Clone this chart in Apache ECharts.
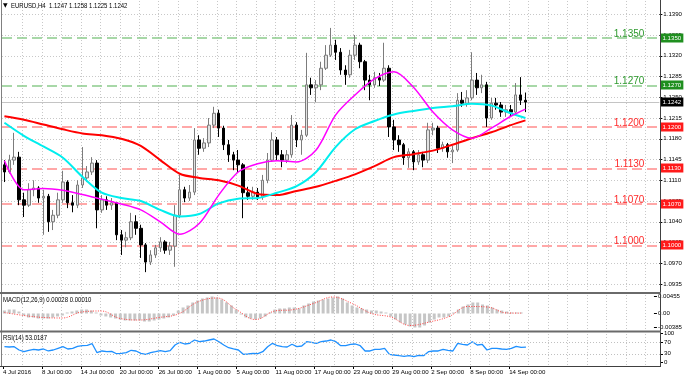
<!DOCTYPE html>
<html><head><meta charset="utf-8">
<script src="https://cdn.jsdelivr.net/npm/echarts@6/dist/echarts.min.js"></script>
<style>html,body{margin:0;padding:0;background:#fff}#c{width:685px;height:377px}</style>
</head><body><div id="c"></div>
<script>
// ---- data (12-hour slots) ----
const dateLabels = ['4 Jul 2016','8 Jul 00:00','14 Jul 00:00','20 Jul 00:00','26 Jul 00:00','1 Aug 00:00','5 Aug 00:00','11 Aug 00:00','17 Aug 00:00','23 Aug 00:00','29 Aug 00:00','2 Sep 00:00','8 Sep 00:00','14 Sep 00:00'];
// [open, close, low, high]
const candles = [
[1.1136,1.1124,1.1107,1.1144],[1.1124,1.1144,1.1121,1.1153],[1.1144,1.1149,1.1136,1.1190],[1.1149,1.1077,1.1068,1.1158],
[1.1077,1.1068,1.1048,1.1089],[1.1068,1.1094,1.1065,1.1105],[1.1094,1.1097,1.1083,1.1110],[1.1097,1.1080,1.1072,1.1100],
[1.1080,1.1083,1.1018,1.1094],[1.1083,1.1040,1.1023,1.1087],[1.1040,1.1051,1.1026,1.1060],[1.1051,1.1077,1.1046,1.1089],
[1.1077,1.1107,1.1072,1.1126],[1.1107,1.1072,1.1063,1.1110],[1.1072,1.1068,1.1056,1.1085],[1.1068,1.1102,1.1063,1.1110],
[1.1102,1.1114,1.1097,1.1166],[1.1114,1.1124,1.1107,1.1134],[1.1124,1.1139,1.1119,1.1149],[1.1139,1.1060,1.1029,1.1144],
[1.1060,1.1077,1.1055,1.1085],[1.1077,1.1068,1.1060,1.1083],[1.1068,1.1072,1.1060,1.1080],[1.1072,1.1018,1.1009,1.1073],
[1.1018,1.1009,1.0984,1.1026],[1.1009,1.1013,1.0997,1.1023],[1.1013,1.1040,1.1009,1.1055],[1.1040,1.1029,1.1018,1.1051],
[1.1029,1.1001,1.0979,1.1035],[1.1001,1.0972,1.0955,1.1004],[1.0972,1.0984,1.0967,1.0992],[1.0984,1.0996,1.0979,1.1001],
[1.0996,1.1006,1.0989,1.1014],[1.1006,1.0992,1.0986,1.1009],[1.0992,1.0999,1.0984,1.1006],[1.0999,1.1051,1.0964,1.1068],
[1.1051,1.1094,1.1046,1.1119],[1.1094,1.1080,1.1073,1.1099],[1.1080,1.1090,1.1075,1.1102],[1.1090,1.1178,1.1085,1.1198],
[1.1178,1.1164,1.1153,1.1186],[1.1164,1.1173,1.1158,1.1181],[1.1173,1.1203,1.1166,1.1215],[1.1203,1.1223,1.1198,1.1234],
[1.1223,1.1198,1.1183,1.1229],[1.1198,1.1170,1.1161,1.1202],[1.1170,1.1153,1.1141,1.1178],[1.1153,1.1144,1.1127,1.1158],
[1.1144,1.1136,1.1124,1.1161],[1.1136,1.1089,1.1046,1.1139],[1.1089,1.1083,1.1077,1.1099],[1.1083,1.1090,1.1077,1.1099],
[1.1090,1.1082,1.1077,1.1097],[1.1082,1.1110,1.1077,1.1119],[1.1110,1.1144,1.1105,1.1156],[1.1144,1.1178,1.1141,1.1191],
[1.1178,1.1153,1.1144,1.1183],[1.1153,1.1144,1.1132,1.1161],[1.1144,1.1153,1.1139,1.1161],[1.1153,1.1203,1.1148,1.1220],
[1.1203,1.1178,1.1166,1.1208],[1.1178,1.1186,1.1153,1.1195],[1.1186,1.1271,1.1183,1.1325],[1.1271,1.1266,1.1254,1.1283],
[1.1266,1.1271,1.1242,1.1279],[1.1271,1.1299,1.1262,1.1310],[1.1299,1.1321,1.1296,1.1338],[1.1321,1.1338,1.1318,1.1367],
[1.1338,1.1326,1.1313,1.1347],[1.1326,1.1296,1.1288,1.1333],[1.1296,1.1288,1.1271,1.1304],[1.1288,1.1321,1.1283,1.1330],
[1.1321,1.1338,1.1313,1.1355],[1.1338,1.1310,1.1299,1.1342],[1.1310,1.1279,1.1262,1.1313],[1.1279,1.1271,1.1245,1.1288],
[1.1271,1.1283,1.1266,1.1293],[1.1283,1.1279,1.1269,1.1291],[1.1279,1.1299,1.1276,1.1342],[1.1299,1.1200,1.1183,1.1304],
[1.1200,1.1178,1.1161,1.1212],[1.1178,1.1170,1.1158,1.1186],[1.1170,1.1148,1.1136,1.1173],[1.1148,1.1158,1.1131,1.1164],
[1.1158,1.1141,1.1127,1.1161],[1.1141,1.1153,1.1136,1.1161],[1.1153,1.1144,1.1132,1.1158],[1.1144,1.1195,1.1139,1.1207],
[1.1195,1.1198,1.1186,1.1207],[1.1198,1.1164,1.1156,1.1202],[1.1164,1.1170,1.1158,1.1175],[1.1170,1.1158,1.1148,1.1173],
[1.1158,1.1161,1.1139,1.1168],[1.1161,1.1245,1.1158,1.1257],[1.1245,1.1240,1.1234,1.1259],[1.1240,1.1249,1.1234,1.1262],
[1.1249,1.1279,1.1245,1.1326],[1.1279,1.1266,1.1254,1.1291],[1.1266,1.1271,1.1257,1.1288],[1.1271,1.1215,1.1200,1.1276],
[1.1215,1.1240,1.1212,1.1249],[1.1240,1.1237,1.1229,1.1249],[1.1237,1.1225,1.1217,1.1242],[1.1225,1.1229,1.1217,1.1237],
[1.1229,1.1225,1.1218,1.1237],[1.1225,1.1254,1.1222,1.1274],[1.1254,1.1245,1.1237,1.1284],[1.1245,1.1242,1.1225,1.1258]
];
const maSlots = [0,4,8,12,16,20,24,28,32,36,40,44,48,52,56,60,64,68,72,76,80,84,88,92,96,100,104,107];
const maRed = [1.1218,1.1212,1.1204,1.1196,1.1189,1.1186,1.1180,1.1168,1.1144,1.1121,1.1114,1.1110,1.1101,1.1087,1.1085,1.1092,1.1099,1.1109,1.1120,1.1134,1.1149,1.1154,1.1160,1.1170,1.1181,1.1191,1.1203,1.1211];
const maCyan = [1.1207,1.1185,1.1167,1.1148,1.1116,1.1089,1.1080,1.1075,1.1060,1.1049,1.1053,1.1071,1.1079,1.1080,1.1089,1.1100,1.1124,1.1166,1.1196,1.1210,1.1221,1.1227,1.1232,1.1235,1.1239,1.1236,1.1223,1.1215];
const maMagenta = [1.1143,1.1094,1.1096,1.1093,1.1086,1.1078,1.1070,1.1060,1.1040,1.1019,1.1037,1.1085,1.1124,1.1138,1.1143,1.1141,1.1161,1.1220,1.1254,1.1281,1.1293,1.1267,1.1225,1.1195,1.1181,1.1198,1.1218,1.1230];
const macdHist = [
0.00081,0.00108,0.00108,0.00054,
-0.00054,-0.00108,-0.00108,-0.00136,-0.00136,-0.00136,-0.00108,-0.00081,
-0.00054,
0.00027,0.00054,0.00081,0.00108,0.00108,0.00081,0.00027,
-0.00054,-0.00081,-0.00108,-0.00136,-0.00163,-0.00190,-0.00190,-0.00190,-0.00190,-0.00217,-0.00217,-0.00190,-0.00163,-0.00136,-0.00108,-0.00054,
0.00081,0.00163,0.00217,0.00298,0.00352,0.00407,0.00434,0.00461,0.00434,0.00379,0.00298,0.00217,0.00108,
-0.00027,-0.00108,-0.00136,-0.00163,-0.00136,-0.00081,
0.00027,0.00108,0.00136,0.00136,0.00163,0.00163,0.00136,0.00217,0.00271,0.00325,0.00352,0.00379,0.00407,0.00434,0.00461,0.00407,0.00298,0.00217,0.00163,0.00136,0.00108,0.00081,0.00081,0.00054,0.00027,
-0.00081,-0.00163,-0.00244,-0.00298,-0.00352,-0.00379,-0.00379,-0.00325,-0.00244,-0.00163,
-0.00108,-0.00108,-0.00081,
0.00027,0.00108,0.00190,0.00244,0.00298,0.00298,0.00244,0.00217,0.00163,0.00108,0.00081,
0.00054,0.00027,0.00027,0.00028
];
const macdSignal = [0.00027,-0.00054,-0.00108,-0.00122,0.00041,0.00068,-0.00136,-0.00176,-0.00108,-0.00014,0.00312,0.00420,0.00108,-0.00163,0.00068,0.00108,0.00271,0.00447,0.00271,0,-0.00095,-0.00325,-0.00230,-0.00087,0.00190,0.00176,0.00014,0.00010];
const rsi = [
54.5,53.4,54.5,43.1,37.2,42.1,45.5,43.1,46.6,39.7,43.1,49,54.5,46.6,49,55.9,57.9,59.3,64.8,33.8,
39.7,37.2,38.6,30.3,31.7,33.8,42.1,39.7,31.7,28.3,33.8,37.2,40.7,37.2,40.7,60.3,69.7,63.8,66.2,77.6,
71.7,74.1,77.6,81,71.7,60.3,51,46.6,43.1,28.3,29.3,31.7,30.3,37.2,54.5,66.2,57.9,54.5,53.4,62.8,
54.5,56.9,71.7,69.7,66.2,71.7,74.1,77.6,71.7,57.9,57.9,62.8,63.8,57.9,39.7,39.7,45.5,45.5,49,28.3,
25.9,23.4,21.4,23.4,20,24.8,23.4,37.2,39.7,39.7,45.5,42.1,39.7,66.2,62.8,60.3,71.7,60.3,62.8,43.1,
49,49,46.6,45.5,49,55.9,52.4,53.0
];
const greenLevels = [1.1350, 1.1270];
const redLevels = [1.1200, 1.1130, 1.1070, 1.1000];
const lastBar = [1.1247, 1.1258, 1.1225, 1.1242]; // O H L C
const macdLast = [0.00028, 0.00010];
const rsiLast = 53.0187;
const macdTicks = [0.00455, 0, -0.00385];
const rsiTicks = [100, 70, 30, 0];

// ---- chart ----
const N = 135;
const cats = Array.from({length: N}, (_, i) => String(i));
const bgCats = Array.from({length: N + 1}, (_, i) => String(i));
const F = '"Liberation Sans",Arial,sans-serif';
const SMALL = 6.1;
const GRID = '#c8c8c8';
const L = 2, W = 658;
const BOX_FILL = ['#1f8f1f', '#ff1a1a', '#000000'];

const levelLines = [];
greenLevels.forEach(v => levelLines.push({yAxis: v, lineStyle: {color: '#8ccb8c', type: [10, 5], width: 1.5},
  label: {formatter: v.toFixed(4), color: '#2e9a2e'}}));
redLevels.forEach(v => levelLines.push({yAxis: v, lineStyle: {color: '#ff8c8c', type: [10, 5], width: 1.5},
  label: {formatter: v.toFixed(4), color: '#ff2a2a'}}));

// price boxes on the right axis: [slot, price, kind]
const boxData = greenLevels.map(v => [0, v, 0])
  .concat(redLevels.map(v => [0, v, 1]))
  .concat([[0, lastBar[3], 2]]);

const pairs = arr => maSlots.map((s, i) => [s, arr[i]]);
const hidX = (gi, data) => ({type: 'category', gridIndex: gi, data: data, boundaryGap: true,
  axisLine: {show: false}, axisTick: {show: false}, axisLabel: {show: false}, splitLine: {show: false}});

const option = {
  animation: false,
  backgroundColor: '#ffffff',
  textStyle: {fontFamily: F},
  grid: [
    {left: L, width: W, top: 14.3, height: 269.7},
    {left: L, width: W, top: 1, height: 365},
    {left: L, width: W, top: 293.5, height: 36.5},
    {left: L, width: W, top: 331.5, height: 34.5}
  ],
  xAxis: [
    hidX(0, cats),
    {type: 'category', gridIndex: 1, data: bgCats, boundaryGap: false,
      axisLine: {show: false},
      axisTick: {show: true, length: 3, interval: (i) => i % 8 === 0 && i <= 104, lineStyle: {color: '#000'}},
      axisLabel: {show: true, interval: (i) => i % 8 === 0 && i <= 104, formatter: (v, i) => dateLabels[i / 8] || '',
        align: 'left', fontSize: SMALL, color: '#000', margin: 3, fontFamily: F},
      splitLine: {show: true, interval: (i) => i % 4 === 0 && i > 0 && i < N, lineStyle: {color: GRID, type: [1, 2], width: 1}}},
    hidX(2, cats),
    hidX(3, cats)
  ],
  yAxis: [
    {type: 'value', gridIndex: 0, position: 'right', min: 1.0935, max: 1.1390, interval: 0.0035,
      axisLine: {show: false}, axisTick: {show: true, length: 3, lineStyle: {color: '#000'}},
      axisLabel: {fontSize: SMALL, color: '#000', margin: 4, fontFamily: F, formatter: v => v.toFixed(4)},
      splitLine: {show: true, lineStyle: {color: GRID, type: [1, 2], width: 1}}},
    {type: 'value', gridIndex: 1, min: 0, max: 1, show: false},
    {type: 'value', gridIndex: 2, position: 'right', min: -0.004473, max: 0.005417,
      axisLine: {show: false}, splitLine: {show: false},
      axisTick: {show: true, length: 3, customValues: macdTicks, lineStyle: {color: '#000'}},
      axisLabel: {fontSize: SMALL, color: '#000', margin: 4, fontFamily: F, customValues: macdTicks,
        formatter: v => (v === 0 ? '0.00' : v.toFixed(5))}},
    {type: 'value', gridIndex: 3, position: 'right', min: -12.07, max: 106.9,
      axisLine: {show: false}, splitLine: {show: false},
      axisTick: {show: true, length: 3, customValues: rsiTicks, lineStyle: {color: '#000'}},
      axisLabel: {fontSize: SMALL, color: '#000', margin: 4, fontFamily: F, customValues: rsiTicks,
        formatter: v => String(v)}}
  ],
  series: [
    {type: 'candlestick', xAxisIndex: 0, yAxisIndex: 0, data: candles, barWidth: 3, z: 2,
      itemStyle: {color: '#e2e2e2', color0: '#000000', borderColor: '#7c7c7c', borderColor0: '#000000', borderWidth: 1},
      markLine: {silent: true, symbol: 'none', precision: 4, z: 1,
        label: {position: 'insideEndTop', distance: [15, -1], fontSize: 10, fontFamily: F},
        data: levelLines.concat([{yAxis: lastBar[3], lineStyle: {color: '#c4c4c4', type: 'solid', width: 1}, label: {show: false}}])}},
    {type: 'line', xAxisIndex: 0, yAxisIndex: 0, data: pairs(maRed), showSymbol: false, smooth: 0.3, z: 4,
      lineStyle: {color: '#ff0000', width: 2}},
    {type: 'line', xAxisIndex: 0, yAxisIndex: 0, data: pairs(maCyan), showSymbol: false, smooth: 0.3, z: 4,
      lineStyle: {color: '#00eeee', width: 2}},
    {type: 'line', xAxisIndex: 0, yAxisIndex: 0, data: pairs(maMagenta), showSymbol: false, smooth: 0.3, z: 5,
      lineStyle: {color: '#ff00ff', width: 1.5}},
    {type: 'custom', xAxisIndex: 0, yAxisIndex: 0, data: boxData, encode: {x: 0, y: 1}, z: 20, clip: false,
      renderItem: (params, api) => {
        const y = api.coord([0, api.value(1)])[1];
        const cs = params.coordSys;
        const x = cs.x + cs.width + 1;
        return {type: 'group', children: [
          {type: 'rect', shape: {x: x, y: Math.round(y) - 4.5, width: 23, height: 9}, style: {fill: BOX_FILL[api.value(2)]}},
          {type: 'text', style: {text: api.value(1).toFixed(4), x: x + 11.5, y: Math.round(y), align: 'center', verticalAlign: 'middle',
            fill: '#fff', fontSize: SMALL, fontFamily: F}}
        ]};
      }},
    {type: 'bar', xAxisIndex: 2, yAxisIndex: 2, data: macdHist, barWidth: 3, itemStyle: {color: '#c6c6c6'}},
    {type: 'line', xAxisIndex: 2, yAxisIndex: 2, data: pairs(macdSignal), showSymbol: false, smooth: 0.4,
      lineStyle: {color: '#ff4040', width: 1, type: [1, 1.5]}},
    {type: 'line', xAxisIndex: 3, yAxisIndex: 3, data: rsi, showSymbol: false,
      lineStyle: {color: '#1e90ff', width: 1.3},
      markLine: {silent: true, symbol: 'none', label: {show: false},
        lineStyle: {color: '#c0c0c0', type: [1, 2], width: 1}, data: [{yAxis: 70}, {yAxis: 30}]}}
  ],
  graphic: [
    {type: 'line', shape: {x1: 1.5, y1: 0, x2: 1.5, y2: 366}, style: {stroke: '#808080', lineWidth: 1}, z: 50},
    {type: 'line', shape: {x1: 660.5, y1: 0, x2: 660.5, y2: 367}, style: {stroke: '#404040', lineWidth: 1}, z: 50},
    {type: 'rect', shape: {x: 0, y: 292, width: 661, height: 2}, style: {fill: '#6a6a6a'}, z: 50},
    {type: 'rect', shape: {x: 0, y: 330.5, width: 661, height: 2}, style: {fill: '#6a6a6a'}, z: 50},
    {type: 'line', shape: {x1: 0, y1: 366.5, x2: 661, y2: 366.5}, style: {stroke: '#404040', lineWidth: 1}, z: 50},
    {type: 'text', x: 3, y: 2, z: 60, style: {text: '▼', fontSize: 6, fill: '#000', fontFamily: 'DejaVu Sans'}},
    {type: 'text', x: 11, y: 2, scaleX: 0.8, z: 60, style: {text: 'EURUSD,H4  ' + lastBar.map(v => v.toFixed(4)).join(' '), fontSize: 7.5, fill: '#000', fontFamily: F}},
    {type: 'text', x: 3, y: 296, scaleX: 0.8, z: 60, style: {text: 'MACD(12,26,9) ' + macdLast.map(v => v.toFixed(5)).join(' '), fontSize: 7.5, fill: '#000', fontFamily: F}},
    {type: 'text', x: 3, y: 333.5, scaleX: 0.8, z: 60, style: {text: 'RSI(14) ' + rsiLast.toFixed(4), fontSize: 7.5, fill: '#000', fontFamily: F}}
  ]
};
const chart = echarts.init(document.getElementById('c'));
chart.setOption(option);
</script>
</body></html>
